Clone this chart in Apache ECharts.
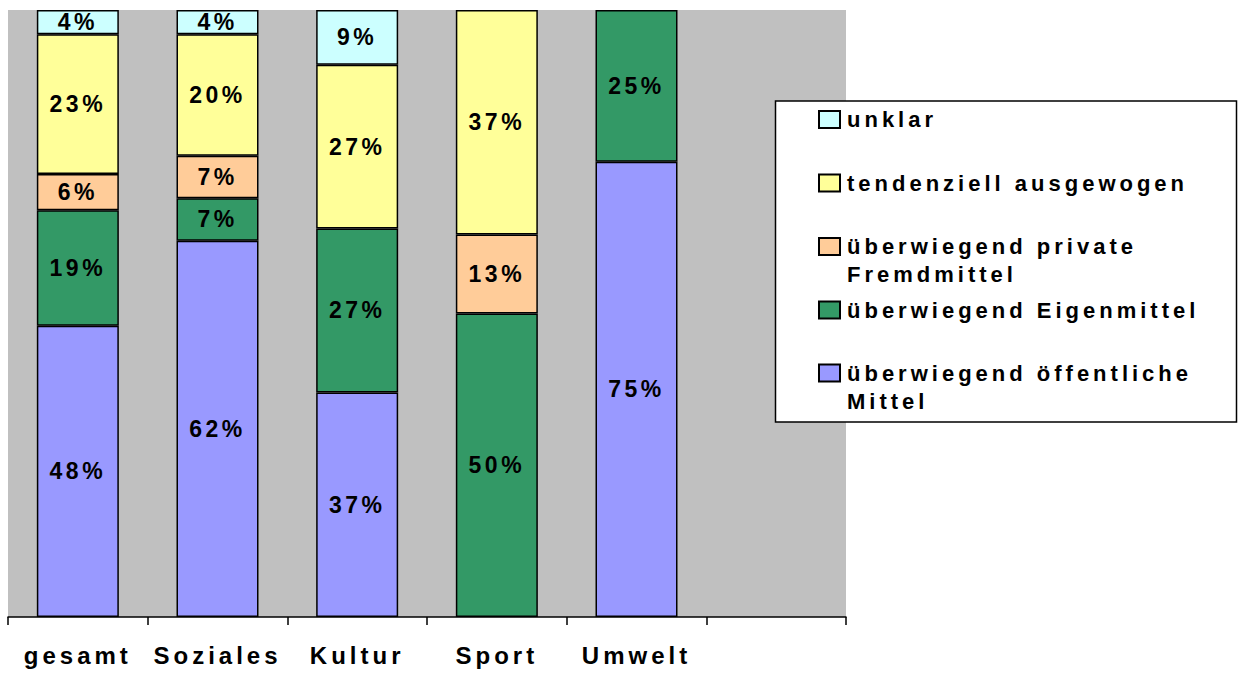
<!DOCTYPE html>
<html><head><meta charset="utf-8">
<script src="https://cdn.jsdelivr.net/npm/echarts@6/dist/echarts.min.js"></script>
<style>html,body{margin:0;padding:0;background:#fff}#c{width:1242px;height:673px}</style>
</head><body><div id="c"></div>
<script>
const categories = ['gesamt', 'Soziales', 'Kultur', 'Sport', 'Umwelt', ''];
const oeffentlicheMittel = [48, 62, 37, '-', 75, '-'];
const eigenmittel = [19, 7, 27, 50, 25, '-'];
const privateFremdmittel = [6, 7, '-', 13, '-', '-'];
const tendenziellAusgewogen = [23, 20, 27, 37, '-', '-'];
const unklar = [4, 4, 9, '-', '-', '-'];

const seriesNames = ['überwiegend öffentliche Mittel', 'überwiegend Eigenmittel', 'überwiegend private Fremdmittel', 'tendenziell ausgewogen', 'unklar'];
const legendTexts = ['überwiegend öffentliche\nMittel', 'überwiegend Eigenmittel', 'überwiegend private\nFremdmittel', 'tendenziell ausgewogen', 'unklar'];
const seriesData = [oeffentlicheMittel, eigenmittel, privateFremdmittel, tendenziellAusgewogen, unklar];
const colors = ['#9999FF', '#339966', '#FFCC99', '#FFFF99', '#CCFFFF'];
const legendCenters = [373, 310, 246.5, 183, 119.5];

const AXIS_FONT = '"Liberation Sans", Helvetica';
const DATA_FONT = '"Liberation Sans", Arial';
const LEG_FONT = '"Liberation Sans", sans-serif';

const chart = echarts.init(document.getElementById('c'), null, {renderer: 'svg'});

const series = seriesNames.map((n, i) => ({
  name: n,
  type: 'bar',
  stack: 'all',
  barWidth: 82,
  data: seriesData[i],
  itemStyle: {color: colors[i], borderColor: '#000', borderWidth: 1.5},
  label: {
    show: true, position: 'inside', formatter: '{c}%',
    color: '#000', fontWeight: 'bold', fontSize: 23, fontFamily: DATA_FONT
  },
  emphasis: {disabled: true}
}));

const legends = seriesNames.map((n, i) => {
  const multi = legendTexts[i].includes('\n');
  const lh = 28;
  return {
    data: [{name: n, icon: 'rect'}],
    left: 818,
    top: legendCenters[i] - (multi ? lh * 1.5 : lh / 2),
    padding: 0,
    itemWidth: 21, itemHeight: 17,
    itemGap: 0,
    selectedMode: false,
    formatter: () => multi ? '\n' + legendTexts[i] : legendTexts[i],
    textStyle: {color: '#000', fontWeight: 'bold', fontSize: 22, fontFamily: LEG_FONT, lineHeight: lh, padding: [0, 0, 0, 2]}
  };
});

chart.setOption({
  animation: false,
  grid: {left: 8, right: 396, top: 10, bottom: 56, show: true, backgroundColor: '#C0C0C0', borderWidth: 0},
  xAxis: {
    type: 'category', data: categories,
    axisLine: {lineStyle: {color: '#000', width: 1.5}},
    axisTick: {show: true, length: 8, interval: 0, lineStyle: {color: '#000', width: 1.5}},
    axisLabel: {interval: 0, margin: 26, color: '#000', fontWeight: 'bold', fontSize: 24, fontFamily: AXIS_FONT}
  },
  yAxis: {type: 'value', min: 0, max: 100, show: false, splitLine: {show: false}},
  legend: legends,
  graphic: [{
    type: 'rect', z: 3,
    shape: {x: 775.5, y: 101, width: 461, height: 321},
    style: {fill: '#fff', stroke: '#000', lineWidth: 1.5}
  }],
  series: series
});

function applySpacing() {
  document.querySelectorAll('#c text').forEach(t => {
    const ff = getComputedStyle(t).fontFamily + ' ' + (t.getAttribute('style') || '') + ' ' + (t.getAttribute('font-family') || '');
    if (ff.includes('Helvetica')) t.style.letterSpacing = '4px';
    else if (ff.includes('Arial')) t.style.letterSpacing = '3.5px';
    else if (ff.includes('sans-serif')) t.style.letterSpacing = '4px';
  });
}
chart.on('finished', applySpacing);
setTimeout(applySpacing, 50);
applySpacing();
</script>
</body></html>
